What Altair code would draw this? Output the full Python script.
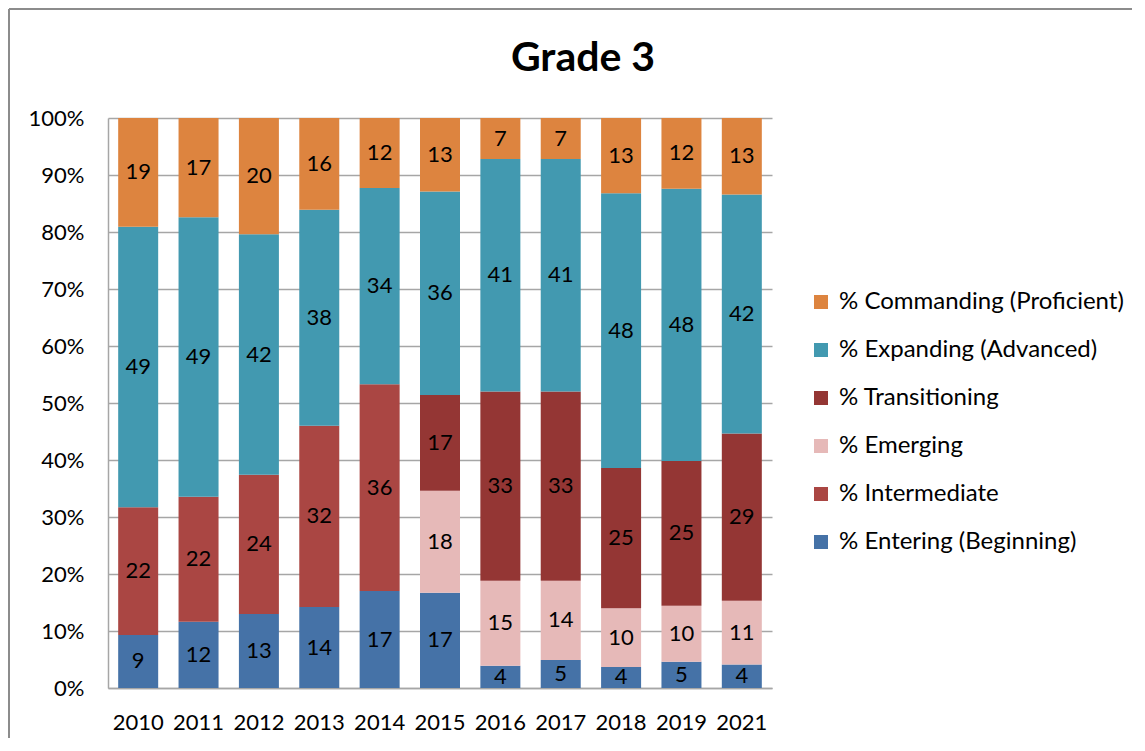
import altair as alt
import pandas as pd

years = ["2010", "2011", "2012", "2013", "2014", "2015", "2016", "2017", "2018", "2019", "2021"]
entering = [9.3, 11.6, 13.0, 14.2, 17.0, 16.7, 3.9, 4.9, 3.7, 4.6, 4.1]
intermediate = [22.4, 21.9, 24.4, 31.8, 36.3, None, None, None, None, None, None]
emerging = [None, None, None, None, None, 17.9, 14.9, 13.9, 10.3, 9.8, 11.2]
transitioning = [None, None, None, None, None, 16.8, 33.2, 33.2, 24.6, 25.4, 29.3]
expanding = [49.2, 49.0, 42.2, 37.9, 34.4, 35.7, 40.8, 40.8, 48.2, 47.7, 41.9]
commanding = [19.1, 17.4, 20.4, 16.1, 12.3, 12.9, 7.2, 7.2, 13.2, 12.4, 13.4]

series_names = [
    "% Entering (Beginning)",
    "% Intermediate",
    "% Emerging",
    "% Transitioning",
    "% Expanding (Advanced)",
    "% Commanding (Proficient)",
]
series_values = [entering, intermediate, emerging, transitioning, expanding, commanding]
legend_order = list(reversed(series_names))
colors = ["#DD843F", "#4299B0", "#943634", "#E6B9B8", "#AA4643", "#4572A7"]

title_text = "Grade 3"

rows = []
for order, (name, vals) in enumerate(zip(series_names, series_values)):
    for y, v in zip(years, vals):
        if v is not None:
            rows.append({"year": y, "series": name, "value": v, "order": order})
df = pd.DataFrame(rows)

FONT = "Lato"

stacked = (
    alt.Chart(df)
    .transform_stack(
        stack="value",
        as_=["v0", "v1"],
        groupby=["year"],
        offset="normalize",
        sort=[alt.SortField("order", order="ascending")],
    )
    .transform_calculate(mid="(datum.v0 + datum.v1) / 2")
)

xenc = alt.X(
    "year:N",
    title=None,
    sort=years,
    scale=alt.Scale(paddingInner=0, paddingOuter=0),
    axis=alt.Axis(
        labelAngle=0, labelFont=FONT, labelFontSize=22, labelColor="black",
        ticks=False, labelPadding=24, domainColor="#A6A6A6", domainWidth=1.5,
    ),
)

bars = stacked.mark_bar(width=40).encode(
    x=xenc,
    y=alt.Y(
        "v0:Q",
        title=None,
        scale=alt.Scale(domain=[0, 1], nice=False),
        axis=alt.Axis(
            format=".0%", values=[i / 10 for i in range(11)],
            labelFont=FONT, labelFontSize=22, labelColor="black",
            ticks=False, labelPadding=24,
            grid=True, gridColor="#A6A6A6", gridWidth=1.5,
            domainColor="#A6A6A6", domainWidth=1.5,
        ),
    ),
    y2="v1:Q",
    color=alt.Color(
        "series:N",
        scale=alt.Scale(domain=legend_order, range=colors),
        legend=alt.Legend(
            title=None, orient="none", legendX=701, legendY=172,
            symbolType="square", symbolSize=196, symbolStrokeWidth=0,
            labelFont=FONT, labelFontSize=24, labelColor="black",
            labelOffset=6, rowPadding=24, labelLimit=400,
        ),
    ),
)

text = stacked.mark_text(font=FONT, fontSize=22, color="black").encode(
    x=alt.X("year:N", sort=years),
    y=alt.Y("mid:Q"),
    text=alt.Text("value:Q", format=".0f"),
)

one = alt.Chart(pd.DataFrame({"t": [title_text]}))

frame_left = one.mark_rule(color="#8C8C8C", strokeWidth=2).encode(
    x=alt.value(-99), y=alt.value(-109), y2=alt.value(640)
)
frame_top = one.mark_rule(color="#8C8C8C", strokeWidth=2).encode(
    x=alt.value(-99), x2=alt.value(1040), y=alt.value(-109)
)

title = one.mark_text(
    font=FONT, fontSize=41, fontWeight="bold", color="black",
    align="center", baseline="middle",
).encode(x=alt.value(475), y=alt.value(-59), text="t:N")

chart = (
    alt.layer(frame_left, frame_top, bars, text, title)
    .properties(
        width=664,
        height=570,
        padding={"left": 100, "top": 110, "right": 360, "bottom": 50},
        autosize=alt.AutoSizeParams(type="none"),
    )
    .configure_view(stroke=None)
)

chart.save("out.html", embed_options={"renderer": "svg", "actions": False})
